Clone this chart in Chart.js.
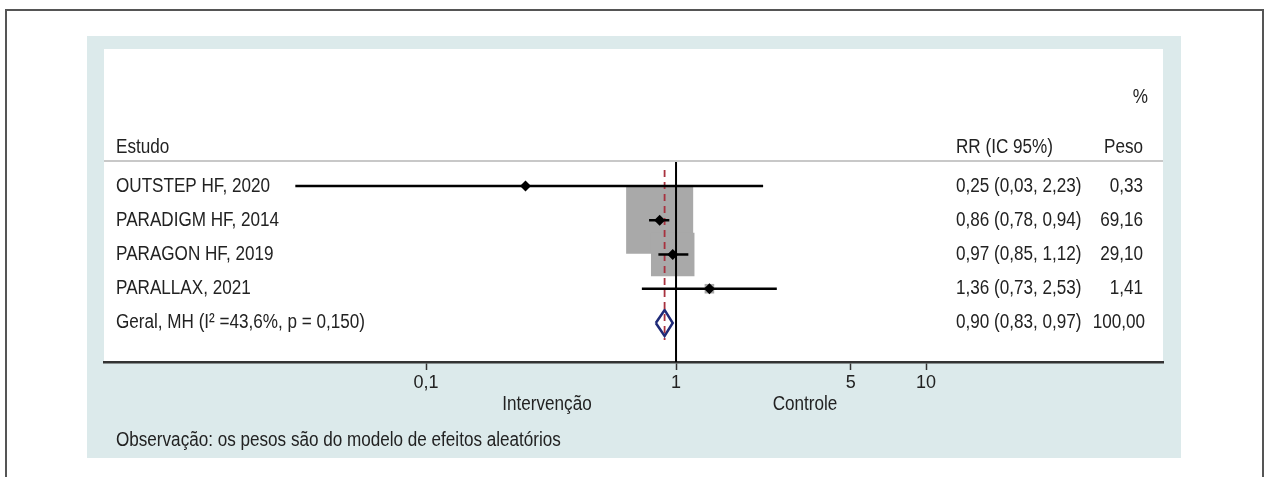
<!DOCTYPE html>
<html>
<head>
<meta charset="utf-8">
<script src="https://cdn.jsdelivr.net/npm/chart.js@4"></script>
<style>
  html, body { margin: 0; padding: 0; background: #ffffff; }
  body { width: 1264px; height: 477px; position: relative; overflow: hidden; }
  #frame { position: absolute; left: 5px; top: 9px; width: 1255px; height: 500px; border: 2px solid #555; }
  #panel { position: absolute; left: 87px; top: 36px; width: 1094px; height: 422px; background: #dceaeb; }
  #white { position: absolute; left: 104px; top: 49px; width: 1059px; height: 313px; background: #ffffff; }
  #forest { position: absolute; left: 0; top: 0; }
</style>
</head>
<body>
<div id="frame"></div>
<div id="panel"></div>
<div id="white"></div>
<canvas id="forest" width="1264" height="477"></canvas>

<script>
// ── Data ────────────────────────────────────────────────────────────────────
const studies  = ['OUTSTEP HF, 2020', 'PARADIGM HF, 2014', 'PARAGON HF, 2019', 'PARALLAX, 2021'];
const rr       = [0.25, 0.86, 0.97, 1.36];
const lower    = [0.03, 0.78, 0.85, 0.73];
const upper    = [2.23, 0.94, 1.12, 2.53];
const weights  = [0.33, 69.16, 29.10, 1.41];

const overallLabel  = 'Geral, MH (I\u00B2 =43,6%, p = 0,150)';
const overallRR     = [0.90];
const overallCI     = [0.83, 0.97];
const overallWeight = [100.00];

const xTicks = [0.1, 1, 5, 10];

// ── Styling constants ───────────────────────────────────────────────────────
const FONT     = "'Liberation Sans', Arial, sans-serif";
const FSIZE    = 20;
const SQUEEZE  = 0.855;   // horizontal squeeze, the original uses a condensed face
const INK      = '#222222';
const BOX_K    = 5.7;     // point radius per sqrt(weight)
const DIAM_H   = 0.38;    // half height of pooled diamond, in rows

const fmt = v => v.toFixed(2).replace('.', ',');

// ── Datasets ────────────────────────────────────────────────────────────────
const rows = studies.map((_, i) => i);
const overallRow = studies.length;

const markerSet = {
  data: rows.map(i => ({ x: rr[i], y: i })),
  pointStyle: 'rectRot', pointRadius: 5.5, borderWidth: 0,
  backgroundColor: '#000', showLine: false,
};

const ciSets = rows.map(i => ({
  data: [{ x: lower[i], y: i }, { x: upper[i], y: i }],
  showLine: true, pointRadius: 0, borderColor: '#000', borderWidth: 2.5,
}));

const dashSet = {
  data: [{ x: overallRR[0], y: -0.47 }, { x: overallRR[0], y: overallRow + 0.5 }],
  showLine: true, pointRadius: 0, borderColor: '#a8323f', borderWidth: 1.8,
  borderDash: [7, 5],
};

const nullSet = {
  data: [{ x: 1, y: -0.73 }, { x: 1, y: 5.14 }],
  showLine: true, pointRadius: 0, borderColor: '#000', borderWidth: 2,
};

const diamondSet = {
  data: [
    { x: overallCI[0], y: overallRow },
    { x: overallRR[0], y: overallRow - DIAM_H },
    { x: overallCI[1], y: overallRow },
    { x: overallRR[0], y: overallRow + DIAM_H },
    { x: overallCI[0], y: overallRow },
  ],
  showLine: true, pointRadius: 0, borderColor: '#1f2a78', borderWidth: 2.5, tension: 0,
};

const boxSet = {
  data: rows.map(i => ({ x: rr[i], y: i })),
  pointStyle: 'rect', pointRadius: weights.map(w => BOX_K * Math.sqrt(w)),
  borderWidth: 0, backgroundColor: '#a9a9a9', showLine: false,
};

// condensed text: squeeze horizontally around the anchor point
function say(ctx, text, x, y, align) {
  ctx.save();
  ctx.translate(x, y);
  ctx.scale(SQUEEZE, 1);
  ctx.textAlign = align || 'left';
  ctx.fillText(text, 0, 0);
  ctx.restore();
}

// ── Text columns, drawn after the chart ─────────────────────────────────────
const textPlugin = {
  id: 'forestText',
  afterDraw(chart) {
    const { ctx, chartArea, scales } = chart;
    const y = scales.y;
    ctx.save();

    // header separator
    ctx.strokeStyle = '#c8c8c8';
    ctx.lineWidth = 2;
    ctx.beginPath();
    ctx.moveTo(chartArea.left, chartArea.top);
    ctx.lineTo(chartArea.right, chartArea.top);
    ctx.stroke();

    ctx.font = `${FSIZE}px ${FONT}`;
    ctx.fillStyle = INK;
    ctx.textBaseline = 'middle';

    // header
    say(ctx, '%', 1148, 97, 'right');
    say(ctx, 'Peso', 1143, 147, 'right');
    say(ctx, 'Estudo', 116, 147);
    say(ctx, 'RR (IC 95%)', 956, 147);

    // study rows
    rows.forEach(i => {
      const py = y.getPixelForValue(i);
      say(ctx, studies[i], 116, py);
      say(ctx, `${fmt(rr[i])} (${fmt(lower[i])}, ${fmt(upper[i])})`, 956, py);
      say(ctx, fmt(weights[i]), 1143, py, 'right');
    });

    // pooled row
    const oy = y.getPixelForValue(overallRow);
    say(ctx, overallLabel, 116, oy);
    say(ctx, `${fmt(overallRR[0])} (${fmt(overallCI[0])}, ${fmt(overallCI[1])})`, 956, oy);
    say(ctx, fmt(overallWeight[0]), 1145, oy, 'right');

    // axis side labels and note
    say(ctx, 'Intervenção', 547, 404, 'center');
    say(ctx, 'Controle', 805, 404, 'center');
    say(ctx, 'Observação: os pesos são do modelo de efeitos aleatórios', 116, 440);

    ctx.restore();
  },
};

new Chart(document.getElementById('forest'), {
  type: 'scatter',
  data: {
    datasets: [markerSet, ...ciSets, dashSet, nullSet, diamondSet, boxSet],
  },
  options: {
    responsive: false,
    animation: false,
    events: [],
    layout: { padding: { left: 104, right: 101, top: 161, bottom: 75 } },
    plugins: { legend: { display: false }, tooltip: { enabled: false } },
    scales: {
      x: {
        type: 'logarithmic',
        min: 0.00515,
        max: 88.7,
        afterBuildTicks: s => { s.ticks = xTicks.map(v => ({ value: v })); },
        afterFit: s => { s.height = 40; },
        border: { display: true, color: '#333', width: 2.5 },
        grid: { drawOnChartArea: false, drawTicks: true, tickLength: 8, tickColor: '#333', tickWidth: 1.5 },
        ticks: {
          autoSkip: false, maxRotation: 0, padding: 2,
          color: INK, font: { family: "'Liberation Sans', Arial, sans-serif", size: 18 },
          callback: v => String(v).replace('.', ','),
        },
      },
      y: {
        type: 'linear',
        display: false,
        reverse: true,
        min: -0.73,
        max: 5.14,
      },
    },
  },
  plugins: [textPlugin],
});
</script>
</body>
</html>
